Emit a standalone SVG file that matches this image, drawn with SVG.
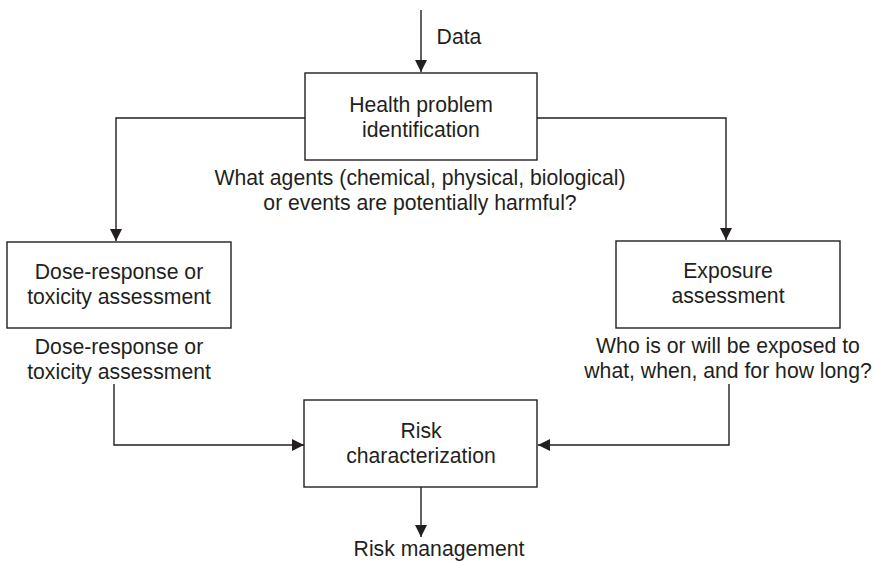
<svg xmlns="http://www.w3.org/2000/svg" width="874" height="562" viewBox="0 0 874 562">
<style>
.box{fill:#fff;stroke:#231f20;stroke-width:1.4}
.ln{fill:none;stroke:#231f20;stroke-width:1.4}
text{font-family:"Liberation Sans",Arial,sans-serif;font-size:21.2px;fill:#231f20;text-anchor:middle}
</style>
<defs>
<marker id="ah" markerWidth="12" markerHeight="14" refX="12" refY="7" orient="auto" markerUnits="userSpaceOnUse">
<path d="M0,1 L12,7 L0,13 Z" fill="#231f20"/>
</marker>
</defs>
<g id="connectors">
<line class="ln" x1="421" y1="10" x2="421" y2="72" marker-end="url(#ah)"/>
<polyline class="ln" points="305,118 116,118 116,241" marker-end="url(#ah)"/>
<polyline class="ln" points="537,118 726,118 726,240" marker-end="url(#ah)"/>
<polyline class="ln" points="114,384 114,445 304,445" marker-end="url(#ah)"/>
<polyline class="ln" points="729,384 729,445 538,445" marker-end="url(#ah)"/>
<line class="ln" x1="421" y1="487" x2="421" y2="537" marker-end="url(#ah)"/>
</g>
<text x="459" y="44">Data</text>
<g id="health">
<rect class="box" x="305" y="73" width="232" height="87"/>
<text x="421" y="112">Health problem</text>
<text x="421" y="137">identification</text>
</g>
<text x="420" y="185">What agents (chemical, physical, biological)</text>
<text x="420" y="210">or events are potentially harmful?</text>
<g id="dose">
<rect class="box" x="7" y="242" width="224" height="86"/>
<text x="119" y="279">Dose-response or</text>
<text x="119" y="304">toxicity assessment</text>
</g>
<text x="119" y="354">Dose-response or</text>
<text x="119" y="379">toxicity assessment</text>
<g id="exposure">
<rect class="box" x="616" y="241" width="224" height="87"/>
<text x="728" y="278">Exposure</text>
<text x="728" y="303">assessment</text>
</g>
<text x="728" y="353">Who is or will be exposed to</text>
<text x="728" y="378">what, when, and for how long?</text>
<g id="risk">
<rect class="box" x="304" y="400" width="233" height="87"/>
<text x="421" y="438">Risk</text>
<text x="421" y="463">characterization</text>
</g>
<text x="439" y="556">Risk management</text>
</svg>
